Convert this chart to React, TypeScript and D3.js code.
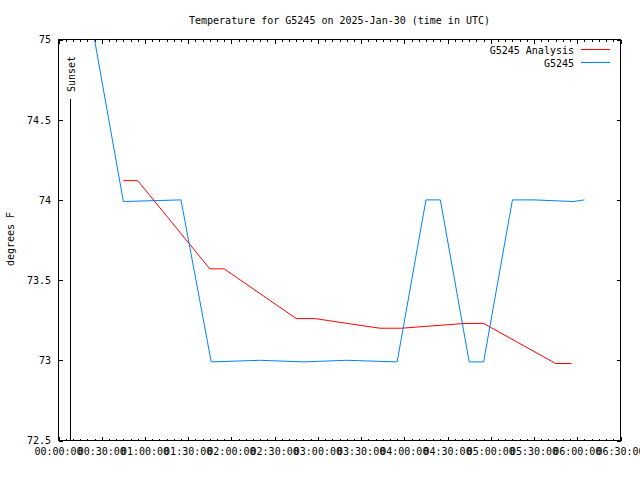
import React from "react";
import * as d3 from "d3";

const DAY = "2025-01-30";
const titleText = "Temperature for G5245 on 2025-Jan-30 (time in UTC)";
const yLabelText = "degrees F";
const sunsetLabel = "Sunset";
const sunsetTime = "00:08:15";

const seriesNames = ["G5245 Analysis", "G5245"];
const seriesColors = ["#ff0000", "#0080ff"];

const analysisTimes = [
  "00:45:00", "00:55:00", "01:45:00", "01:55:00", "02:45:00", "02:58:00",
  "03:43:00", "03:58:00", "04:42:00", "04:55:00", "05:45:00", "05:56:00",
];
const analysisValues = [
  74.12, 74.12, 73.57, 73.57, 73.26, 73.26,
  73.2, 73.2, 73.23, 73.23, 72.98, 72.98,
];

const obsTimes = [
  "00:25:00", "00:45:00", "01:25:00", "01:46:00", "02:20:00", "02:50:00",
  "03:20:00", "03:55:00", "04:15:00", "04:25:00", "04:45:00", "04:55:00",
  "05:15:00", "05:30:00", "05:57:00", "06:05:00",
];
const obsValues = [
  75.0, 73.99, 74.0, 72.99, 73.0, 72.99,
  73.0, 72.99, 74.0, 74.0, 72.99, 72.99,
  74.0, 74.0, 73.99, 74.0,
];

const yTicks = [72.5, 73, 73.5, 74, 74.5, 75];
const yTickLabels = ["72.5", "73", "73.5", "74", "74.5", "75"];

const parseT = (s: string) => new Date(`${DAY}T${s}Z`);

const W = 640;
const H = 480;
const L = 58.5;
const R = 620.5;
const T = 39.5;
const B = 440.5;
const FONT = "'DejaVu Sans Mono', 'Liberation Mono', monospace";

export default function App() {
  const x = d3
    .scaleUtc()
    .domain([parseT("00:00:00"), parseT("06:30:00")])
    .range([L, R]);
  const y = d3.scaleLinear().domain([72.5, 75]).range([B, T]);

  const majorTicks = x.ticks(d3.utcMinute.every(30) as any);
  const minorTicks = x.ticks(d3.utcMinute.every(5) as any);
  const fmt = d3.utcFormat("%H:%M:%S");

  const line = d3
    .line<[Date, number]>()
    .x((d) => x(d[0]))
    .y((d) => y(d[1]));

  const analysis: [Date, number][] = analysisTimes.map((t, i) => [parseT(t), analysisValues[i]]);
  const obs: [Date, number][] = obsTimes.map((t, i) => [parseT(t), obsValues[i]]);

  const sx = Math.round(x(parseT(sunsetTime))) + 0.5;

  return (
    <svg
      width={W}
      height={H}
      style={{ position: "absolute", left: 0, top: 0, background: "#fff" }}
      fontFamily={FONT}
      fontSize={10}
    >
      <rect x={0} y={0} width={W} height={H} fill="#fff" />
      <defs>
        <clipPath id="plotclip">
          <rect x={L} y={T - 1} width={R - L} height={B - T + 1} />
        </clipPath>
      </defs>

      {/* title */}
      <text x={(L + R) / 2} y={24} textAnchor="middle" fill="#000">
        {titleText}
      </text>

      {/* y label */}
      <text
        transform={`translate(14,239) rotate(-90)`}
        textAnchor="middle"
        fill="#000"
      >
        {yLabelText}
      </text>

      {/* ticks */}
      <g stroke="#000" strokeWidth={1} shapeRendering="crispEdges">
        {minorTicks.map((t, i) => {
          const px = Math.round(x(t)) + 0.5;
          return (
            <g key={"mn" + i}>
              <line x1={px} x2={px} y1={B} y2={B - 2} />
              <line x1={px} x2={px} y1={T} y2={T + 2} />
            </g>
          );
        })}
        {majorTicks.map((t, i) => {
          const px = Math.round(x(t)) + 0.5;
          return (
            <g key={"mj" + i}>
              <line x1={px} x2={px} y1={B} y2={B - 4} />
              <line x1={px} x2={px} y1={T} y2={T + 4} />
            </g>
          );
        })}
        {yTicks.map((v, i) => {
          const py = Math.round(y(v)) + 0.5;
          return (
            <g key={"yt" + i}>
              <line x1={L} x2={L + 4} y1={py} y2={py} />
              <line x1={R} x2={R - 4} y1={py} y2={py} />
            </g>
          );
        })}
      </g>

      {/* x tick labels */}
      {majorTicks.map((t, i) => (
        <text key={"xl" + i} x={x(t)} y={455} textAnchor="middle" fill="#000">
          {fmt(t)}
        </text>
      ))}

      {/* y tick labels */}
      {yTicks.map((v, i) => (
        <text key={"yl" + i} x={51} y={y(v) + 3.8} textAnchor="end" fill="#000">
          {yTickLabels[i]}
        </text>
      ))}

      {/* sunset */}
      <line
        x1={sx}
        x2={sx}
        y1={99}
        y2={B}
        stroke="#000"
        strokeWidth={1}
        shapeRendering="crispEdges"
      />
      <text transform={`translate(${sx + 4.5},92) rotate(-90)`} textAnchor="start" fill="#000">
        {sunsetLabel}
      </text>

      {/* data */}
      <g clipPath="url(#plotclip)">
        <path d={line(analysis) || ""} fill="none" stroke={seriesColors[0]} strokeWidth={1} />
        <path d={line(obs) || ""} fill="none" stroke={seriesColors[1]} strokeWidth={1} />
      </g>

      {/* legend */}
      {seriesNames.map((n, i) => (
        <g key={"lg" + i}>
          <text x={574} y={54 + i * 12.5} textAnchor="end" fill="#000">
            {n}
          </text>
          <line
            x1={581}
            x2={610}
            y1={49.5 + i * 12.5}
            y2={49.5 + i * 12.5}
            stroke={seriesColors[i]}
            strokeWidth={1}
            shapeRendering="crispEdges"
          />
        </g>
      ))}

      {/* frame */}
      <rect
        x={L}
        y={T}
        width={R - L}
        height={B - T}
        fill="none"
        stroke="#000"
        strokeWidth={1}
        shapeRendering="crispEdges"
      />
    </svg>
  );
}
